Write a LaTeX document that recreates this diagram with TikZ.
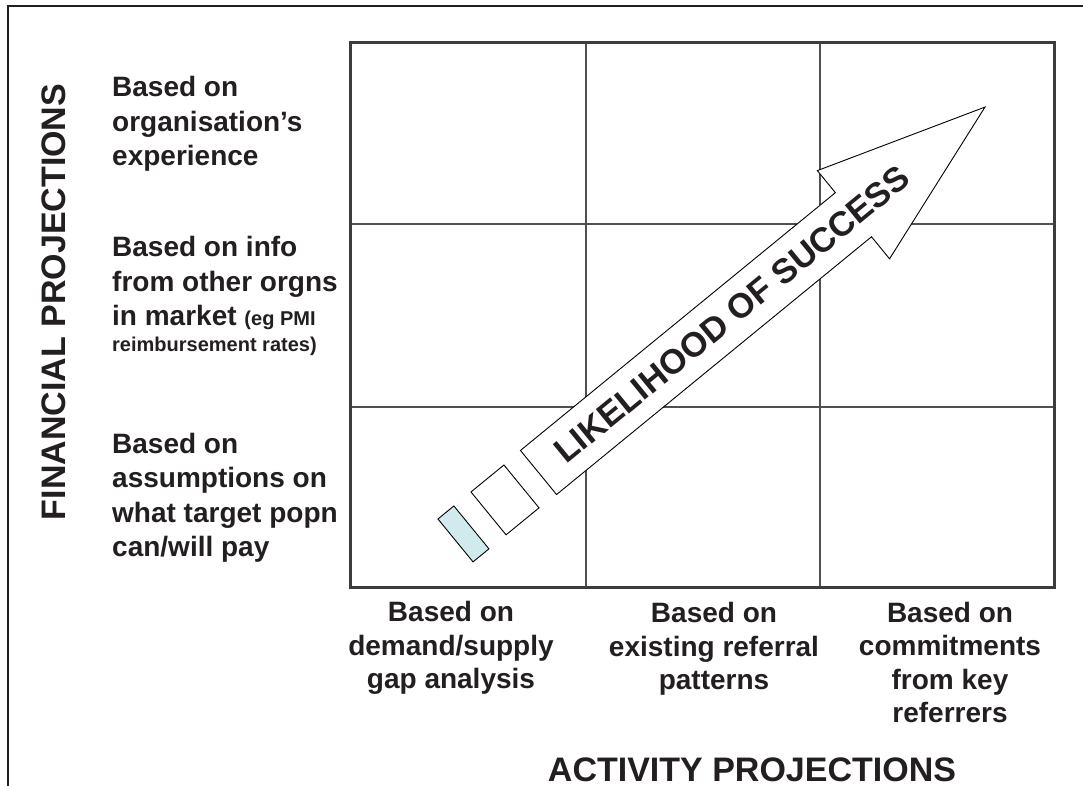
\documentclass[tikz,border=0pt]{standalone}
\usepackage{fontspec}
\setmainfont{Liberation Sans}
\definecolor{ink}{HTML}{231F20}
\definecolor{gridc}{HTML}{3C3C3C}
\definecolor{inner}{HTML}{505050}
\definecolor{paleblue}{HTML}{D0EAEE}
\tikzset{
  lbl/.style={inner sep=0pt, text=ink, font=\bfseries\fontsize{28}{34.5}\selectfont},
  collbl/.style={lbl, align=center, anchor=base, font=\bfseries\fontsize{28}{33.5}\selectfont},
  rowlbl/.style={lbl, align=left, anchor=base west},
  axislbl/.style={inner sep=0pt, text=ink, font=\bfseries\fontsize{34}{40}\selectfont},
  arrowline/.style={draw=black, line width=0.9pt, line join=miter},
}
\begin{document}
\begin{tikzpicture}[x=1pt,y=1pt]
\useasboundingbox (0,0) rectangle (1083,786);
% outer frame (top and left only)
\coordinate (fl) at (8,0);
\coordinate (ftl) at (8,780);
\coordinate (ftr) at (1083,780);
\draw[line width=2pt, color=ink] (fl) -- (ftl) -- (ftr);
% grid
\coordinate (g1) at (350,198);
\coordinate (g2) at (1054,743);
\draw[inner, line width=1.5pt] (586,198) -- (586,743) (820,198) -- (820,743)
  (350,562) -- (1054,562) (350,379) -- (1054,379);
\draw[gridc, line width=3pt] (g1) rectangle (g2);
% arrow
\begin{scope}[shift={(538.5,313.5)}, rotate=39.3]
  \path[arrowline, fill=white] (0,28.5) -- (407,28.5) -- (407,57) -- (577,0) -- (407,-57) -- (407,-28.5) -- (0,-28.5) -- cycle;
  \path[arrowline, fill=white] (-64.6,-27.7) rectangle (-22,27.7);
  \path[arrowline, fill=paleblue] (-107.3,-27.7) rectangle (-86.7,27.7);
  \node[axislbl, rotate=39.3, font=\bfseries\fontsize{34.5}{40}\selectfont] (succ) at (250,0) {LIKELIHOOD OF SUCCESS};
\end{scope}
% axis titles
\node[axislbl, rotate=90] (fin) at (54,484) {FINANCIAL PROJECTIONS};
\node[axislbl, anchor=base] (act) at (752,4) {ACTIVITY PROJECTIONS};
% row labels (anchor = baseline of last line)
\node[rowlbl] (r1) at (112,620) {Based on\\organisation’s\\experience};
\node[rowlbl] (r2) at (112,460) {Based on info\\from other orgns\\in market {\fontsize{20}{24}\selectfont (eg PMI}};
\node[rowlbl, font=\bfseries\fontsize{20}{24}\selectfont] (r2b) at (112,434) {reimbursement rates)};
\node[rowlbl] (r3) at (112,229) {Based on\\assumptions on\\what target popn\\can/will pay};
% column labels
\node[collbl] (c1) at (451,97) {Based on\\demand/supply\\gap analysis};
\node[collbl] (c2) at (714,96) {Based on\\existing referral\\patterns};
\node[collbl] (c3) at (950,63) {Based on\\commitments\\from key\\referrers};
\end{tikzpicture}
\end{document}
